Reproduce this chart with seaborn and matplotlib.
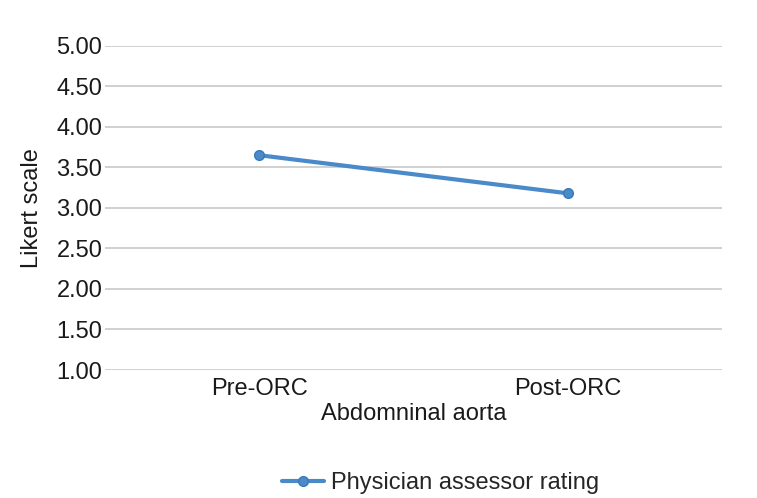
import pandas as pd
import seaborn as sns
import matplotlib.pyplot as plt

phases = ["Pre-ORC", "Post-ORC"]
ratings = [3.65, 3.18]
series_name = "Physician assessor rating"

sns.set_style("white")
plt.rcParams['font.family'] = ['Liberation Sans', 'DejaVu Sans']

df = pd.DataFrame({"phase": phases, "rating": ratings, "series": series_name})

fig = plt.figure(figsize=(7.57, 4.98), dpi=100)
ax = fig.add_axes([0.139, 0.257, 0.815, 0.651])

sns.lineplot(data=df, x="phase", y="rating", hue="series", palette=["#4a8acb"],
             marker="o", markersize=7, markeredgecolor="#3a78b8", markeredgewidth=1,
             linewidth=3, ax=ax)

ax.set_xlim(-0.5, 1.5)
ax.set_ylim(1.0, 5.0)
ax.set_yticks([1.0 + 0.5 * i for i in range(9)])
ax.set_yticklabels([f"{1.0 + 0.5 * i:.2f}" for i in range(9)])
ax.grid(axis="y", color="#c8c8c8", linewidth=1.2)
ax.set_axisbelow(True)
for s in ax.spines.values():
    s.set_visible(False)
ax.tick_params(axis="both", length=0, labelsize=17, colors="#1a1a1a", pad=2)
ax.tick_params(axis="x", pad=6)
ax.set_xlabel("Abdomninal aorta", fontsize=17, color="#1a1a1a", labelpad=2)
ax.set_ylabel("Likert scale", fontsize=17, color="#1a1a1a", labelpad=10)

ax.legend_.remove()
handles, labels = ax.get_legend_handles_labels()
fig.legend(handles, labels, loc="center", bbox_to_anchor=(0.582, 0.03), frameon=False,
           fontsize=17, handlelength=1.8, handletextpad=0.3)

fig.savefig("out.png", dpi=100)
